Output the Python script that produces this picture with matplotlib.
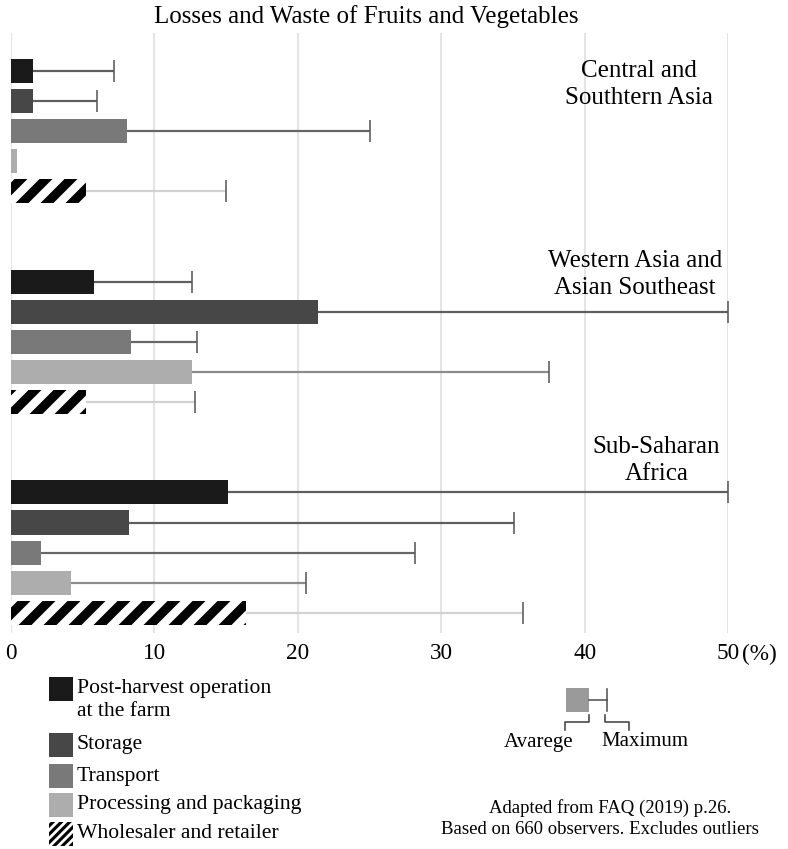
import numpy as np
import matplotlib
matplotlib.use("Agg")
import matplotlib.pyplot as plt
from matplotlib.patches import Rectangle

plt.rcParams['font.family'] = ['Liberation Serif', 'DejaVu Serif']

# ---------------- data ----------------
title = "Losses and Waste of Fruits and Vegetables"
regions = ["Central and\nSouthtern Asia", "Western Asia and\nAsian Southeast", "Sub-Saharan\nAfrica"]
stages = ["Post-harvest operation\nat the farm", "Storage", "Transport",
          "Processing and packaging", "Wholesaler and retailer"]
avg_central = [1.5, 1.5, 8.1, 0.4, 5.2]
max_central = [7.2, 6.0, 25.0, np.nan, 15.0]
avg_western = [5.8, 21.4, 8.4, 12.6, 5.2]
max_western = [12.6, 50.0, 13.0, 37.5, 12.8]
avg_subsah = [15.1, 8.2, 2.1, 4.2, 16.4]
max_subsah = [50.0, 35.1, 28.2, 20.6, 35.7]
xticks = [0, 10, 20, 30, 40, 50]
xtick_labels = ["0", "10", "20", "30", "40", "50"]
unit_label = "(%)"
legend_avg = "Avarege"
legend_max = "Maximum"
source_lines = ["Adapted from FAQ (2019) p.26.",
                "Based on 660 observers. Excludes outliers"]

avgs = [avg_central, avg_western, avg_subsah]
maxs = [max_central, max_western, max_subsah]

# ---------------- style ----------------
bar_colors = ['#1a1a1a', '#474747', '#797979', '#adadad', 'white']
err_colors = ['#5e5e5e', '#5e5e5e', '#666666', '#8c8c8c', '#d2d2d2']
cap_color = '#5a5a5a'
hatches = [None, None, None, None, '//']

W, H, DPI = 788, 849, 150
fig = plt.figure(figsize=(W / DPI, H / DPI), dpi=DPI)
px = 72.0 / DPI  # points per pixel

def fx(x):
    return x / W

def fy(y):
    return 1 - y / H

ax_left, ax_right, ax_top, ax_bot = 11, 728, 33, 633
ax = fig.add_axes([fx(ax_left), fy(ax_bot), (ax_right - ax_left) / W, (ax_bot - ax_top) / H])
ax.set_xlim(0, 50)
ax.set_ylim(18.67, -1.26)
for s in ax.spines.values():
    s.set_visible(False)
ax.set_yticks([])
ax.set_xticks(xticks)
ax.set_xticklabels(xtick_labels, fontsize=11.2)
ax.tick_params(axis='x', length=0, pad=5)
ax.grid(axis='x', color='#dcdcdc', linewidth=1.5 * px)
ax.set_axisbelow(True)

group_step = 7
bar_h = 0.8
for g, (av, mx) in enumerate(zip(avgs, maxs)):
    ys = np.arange(len(stages)) + g * group_step
    for i, y in enumerate(ys):
        if hatches[i]:
            with plt.rc_context({'hatch.linewidth': 4.4}):
                b = ax.barh(y, av[i], height=bar_h, color='white', edgecolor='black',
                            linewidth=0, hatch=hatches[i], zorder=3)
            for p in b.patches:
                if hasattr(p, 'set_hatch_linewidth'):
                    p.set_hatch_linewidth(4.4)
        else:
            ax.barh(y, av[i], height=bar_h, color=bar_colors[i], linewidth=0, zorder=3)
        if not np.isnan(mx[i]):
            ax.hlines(y, av[i], mx[i], color=err_colors[i], linewidth=2.2 * px, zorder=2)
            ax.plot([mx[i]], [y], marker='|', markersize=23 * px, markeredgewidth=1.6 * px,
                    color=cap_color, zorder=2, linestyle='none')

# region labels
label_pos = [(43.8, 0.45), (43.5, 6.75), (45.0, 12.95)]
for (x, y), txt in zip(label_pos, regions):
    ax.text(x, y, txt, ha='center', va='center', fontsize=12, linespacing=1.28)

# unit label next to 50
ax.annotate(unit_label, xy=(50, 0), xycoords=('data', 'axes fraction'),
            xytext=(14 * px, -5), textcoords='offset points',
            ha='left', va='top', fontsize=11.2)

# title
fig.text(fx(366), fy(17), title, ha='center', va='center', fontsize=12)

# ---------------- legend (pixel coords) ----------------
lax = fig.add_axes([0, 0, 1, 1], zorder=-1)
lax.set_xlim(0, W)
lax.set_ylim(H, 0)
lax.axis('off')

sq_x, sq = 49, 24
sq_tops = [677, 733, 764, 793, 822]
for i, (stage, top) in enumerate(zip(stages, sq_tops)):
    if hatches[i]:
        with plt.rc_context({'hatch.linewidth': 1.5}):
            r = Rectangle((sq_x, top), sq, sq, facecolor='white', edgecolor='black',
                          linewidth=0, hatch='//////')
        if hasattr(r, 'set_hatch_linewidth'):
            r.set_hatch_linewidth(1.5)
    else:
        r = Rectangle((sq_x, top), sq, sq, facecolor=bar_colors[i], linewidth=0)
    lax.add_patch(r)
    lines = stage.split('\n')
    lax.text(77, top + 12, lines[0], ha='left', va='center', fontsize=10.4)
    if len(lines) > 1:
        lax.text(77, top + 35, lines[1], ha='left', va='center', fontsize=10.4)

# avg / max explanatory icon
lax.add_patch(Rectangle((566, 688), 23, 24, facecolor='#9a9a9a', linewidth=0))
lax.plot([589, 607], [700, 700], color='#555555', linewidth=1.6 * px)
lax.plot([607, 607], [689, 711], color='#555555', linewidth=1.6 * px)
lax.plot([589, 589, 565, 565], [715, 722, 722, 730], color='#444444', linewidth=1.6 * px)
lax.plot([605, 605, 629, 629], [715, 722, 722, 730], color='#444444', linewidth=1.6 * px)
lax.text(539, 742, legend_avg, ha='center', va='center', fontsize=10)
lax.text(645, 742, legend_max, ha='center', va='center', fontsize=10)

lax.text(610, 808, source_lines[0], ha='center', va='center', fontsize=9)
lax.text(600, 829, source_lines[1], ha='center', va='center', fontsize=9)

fig.savefig("out.png", dpi=DPI)
